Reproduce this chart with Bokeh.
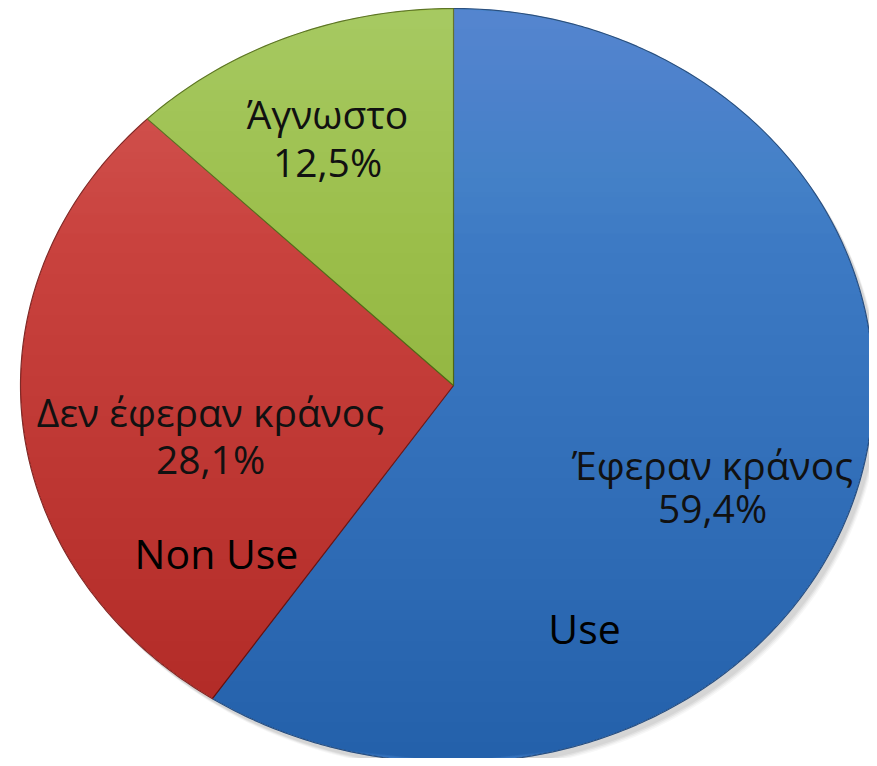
import numpy as np
from bokeh.plotting import figure
from bokeh.models import Range1d, ColumnDataSource
from bokeh.core.properties import value
from bokeh.embed import file_html
from bokeh.resources import INLINE

# ---- data ----
categories = ["Έφεραν κράνος", "Δεν έφεραν κράνος", "Άγνωστο"]
shares = [59.4, 28.1, 12.5]
pct_labels = ["59,4%", "28,1%", "12,5%"]
extra_labels = ["Use", "Non Use"]

# ---- style / layout ----
colors = ["#4885cf", "#d44d49", "#a6c955"]
edge_colors = ["#35629c", "#9c3532", "#73902f"]
CX, CY = 453.0, 385.0
RX_L, RX_R, RY = 433.0, 420.0, 377.0
label_pos = [(712, 464, 507), (210, 411, 458), (327, 113, 161)]
extra_pos = [(584, 627), (216, 552)]

W, H = 869, 758
p = figure(width=W, height=H, output_backend="svg", toolbar_location=None,
           x_range=Range1d(0, W), y_range=Range1d(H, 0),
           min_border=0, outline_line_color=None)
p.axis.visible = False
p.grid.visible = False
p.background_fill_color = "white"
p.border_fill_color = "white"


def ell_pt(t):
    s = np.sin(t)
    rx = np.where(s >= 0, RX_R, RX_L)
    return CX + rx * s, CY - RY * np.cos(t)


# soft shadow
for k, a in [(0, 0.05), (3, 0.05), (6, 0.04), (9, 0.03)]:
    t = np.linspace(0, 2 * np.pi, 240)
    x, y = ell_pt(t)
    p.patch(x + 4 + k * 0.3, y + 5 + k * 0.4, fill_color="#000000", fill_alpha=a,
            line_color=None)

# slices
fr = np.array(shares) / sum(shares)
ends = np.cumsum(fr) * 2 * np.pi
starts = ends - fr * 2 * np.pi
xs, ys = [], []
for s0, s1 in zip(starts, ends):
    t = np.linspace(s0, s1, max(8, int((s1 - s0) * 80)))
    x, y = ell_pt(t)
    xs.append([CX] + list(x))
    ys.append([CY] + list(y))
src = ColumnDataSource(dict(xs=xs, ys=ys, fill=colors, line=edge_colors, cat=categories))
p.patches("xs", "ys", source=src, fill_color="fill", line_color="line",
          line_width=1.2)

# vertical gradient: stack of translucent dark layers
n = 36
ytop = CY - RY
for i in range(n):
    y0 = ytop + (i + 1) * 2 * RY / (n + 1)
    yy = np.linspace(y0, CY + RY, 60)
    u = np.clip((yy - CY) / RY, -1, 1)
    half = np.sqrt(1 - u ** 2)
    xl = CX - RX_L * half
    xr = CX + RX_R * half
    p.patch(list(xl) + list(xr[::-1]), list(yy) + list(yy[::-1]),
            fill_color="#000000", fill_alpha=0.0032, line_color=None)

# top highlight
for i in range(12):
    y1 = ytop + (i + 1) * RY * 0.6 / 12
    yy = np.linspace(ytop, y1, 40)
    u = np.clip((yy - CY) / RY, -1, 1)
    half = np.sqrt(1 - u ** 2)
    xl = CX - RX_L * half
    xr = CX + RX_R * half
    p.patch(list(xl) + list(xr[::-1]), list(yy) + list(yy[::-1]),
            fill_color="#ffffff", fill_alpha=0.008, line_color=None)

# slice borders on top
p.multi_line(xs, ys, line_color="#000000", line_alpha=0.2, line_width=1)

font = value("Open Sans")
lab = ColumnDataSource(dict(x=[q[0] for q in label_pos], y=[q[1] for q in label_pos],
                            y2=[q[2] for q in label_pos], t=categories, t2=pct_labels))
p.text(x="x", y="y", text="t", source=lab, text_font=font, text_font_size="39px",
       text_align="center", text_baseline="alphabetic", text_color="#111111")
p.text(x="x", y="y2", text="t2", source=lab, text_font=font, text_font_size="39px",
       text_align="center", text_baseline="alphabetic", text_color="#111111")

ex = ColumnDataSource(dict(x=[q[0] for q in extra_pos], y=[q[1] for q in extra_pos],
                           t=extra_labels))
p.text(x="x", y="y", text="t", source=ex, text_font=font, text_font_size="41px",
       text_align="center", text_baseline="alphabetic", text_color="#000000")

open("out.html", "w").write(file_html(p, INLINE))
